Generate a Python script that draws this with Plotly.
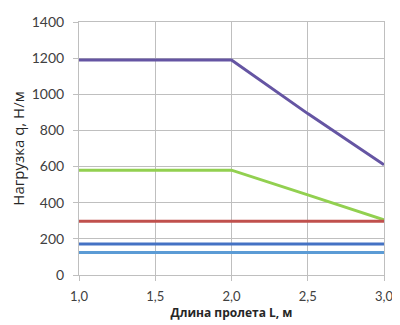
''' Load vs span length chart '''

import plotly.graph_objects as go

span = [1.0, 1.5, 2.0, 2.5, 3.0]  # Span length L, m
load_purple = [1190, 1190, 1190, 893, 610]
load_green = [580, 580, 580, 443, 305]
load_red = [298, 298, 298, 298, 298]
load_blue = [172, 172, 172, 172, 172]
load_lightblue = [125, 125, 125, 125, 125]

series = [
    (load_purple, '#6555A3'),
    (load_green, '#92D050'),
    (load_red, '#C0504D'),
    (load_blue, '#4472C4'),
    (load_lightblue, '#5B9BD5'),
]

fig = go.Figure()
for values, color in series:
    fig.add_trace(go.Scatter(
        x=span, y=values, mode='lines',
        line=dict(color=color, width=3),
        showlegend=False,
    ))

axis_font = dict(family='Lato, Open Sans, sans-serif', size=14, color='#404040')

# Page body adds an 8px offset, so the figure is a bit smaller than the window
fig.update_layout(
    width=392, height=317,
    margin=dict(l=71, r=16, t=14, b=50),
    paper_bgcolor='white', plot_bgcolor='white',
    separators=', ',
    font=axis_font,
)
fig.update_xaxes(
    range=[1.0, 3.0], dtick=0.5, tickformat='.1f',
    tickfont=dict(size=13),
    showgrid=True, gridcolor='#BFBFBF', gridwidth=1,
    showline=True, linecolor='#BFBFBF', mirror=True,
    ticks='outside', ticklen=5, tickcolor='#BFBFBF',
    ticklabelstandoff=4, ticklabeloverflow='allow',
    zeroline=False, automargin=False,
    title=dict(text='<b>Длина пролета L, м</b>',
               font=dict(family='Open Sans, sans-serif', size=12, color='#262626'), standoff=2),
)
fig.update_yaxes(
    range=[0, 1400], dtick=200,
    showgrid=True, gridcolor='#BFBFBF', gridwidth=1,
    showline=True, linecolor='#BFBFBF', mirror=True,
    ticks='outside', ticklen=5, tickcolor='#BFBFBF',
    ticklabelstandoff=6,
    zeroline=False, automargin=False,
    title=dict(text='Нагрузка q, Н/м',
               font=dict(family='Open Sans, sans-serif', size=15, color='#262626'), standoff=6),
)

fig.write_html('out.html')
